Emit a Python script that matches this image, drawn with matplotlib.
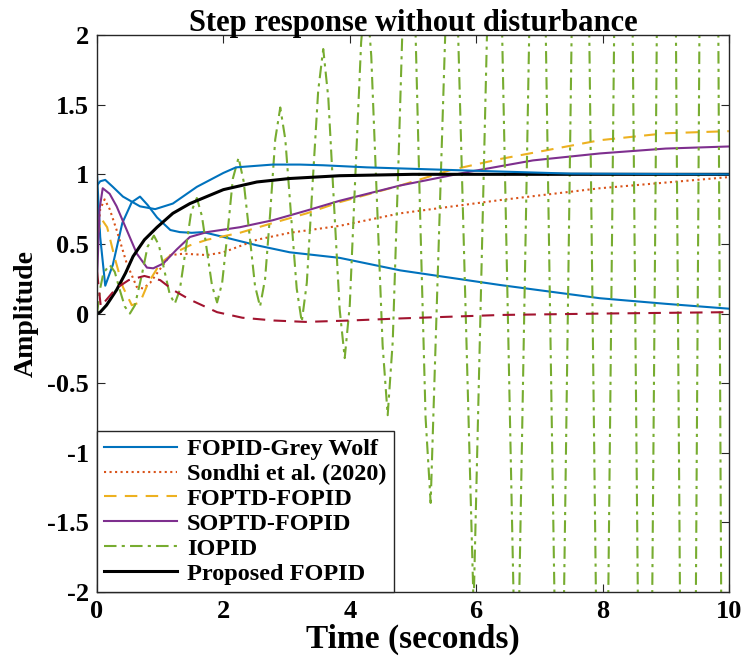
import numpy as np
import matplotlib
matplotlib.use("Agg")
import matplotlib.pyplot as plt

plt.rcParams['font.family'] = ['Liberation Serif', 'DejaVu Serif']
plt.rcParams['font.weight'] = 'bold'
plt.rcParams['axes.unicode_minus'] = False

# --- data ---
# FOPID-Grey Wolf (blue, solid)
gw_t = [0.0, 0.05, 0.13, 0.25, 0.4, 0.55, 0.68, 0.8, 0.95, 1.16, 1.31, 1.5, 1.68, 2.0, 2.53, 3.05, 3.84, 4.8, 6.38, 7.96, 9.0, 10.0]
gw_y = [1.0, 0.55, 0.2, 0.35, 0.65, 0.8, 0.84, 0.78, 0.69, 0.6, 0.585, 0.58, 0.585, 0.55, 0.49, 0.44, 0.40, 0.31, 0.205, 0.11, 0.07, 0.035]

# second blue trace (not in legend)
b2_t = [0.0, 0.05, 0.13, 0.25, 0.41, 0.68, 0.92, 1.2, 1.58, 2.0, 2.2, 2.78, 3.21, 3.58, 4.27, 5.32, 6.38, 7.5, 10.0]
b2_y = [0.92, 0.95, 0.96, 0.91, 0.84, 0.77, 0.75, 0.79, 0.91, 1.01, 1.05, 1.07, 1.07, 1.065, 1.05, 1.035, 1.02, 1.005, 1.0]

# Sondhi et al. (2020) (orange, dotted)
so_t = [0.0, 0.05, 0.12, 0.2, 0.31, 0.47, 0.63, 0.73, 0.84, 0.95, 1.16, 1.37, 1.74, 2.0, 2.53, 3.05, 3.84, 4.8, 6.38, 7.96, 10.0]
so_y = [0.5, 0.75, 0.82, 0.75, 0.6, 0.36, 0.19, 0.18, 0.22, 0.29, 0.42, 0.43, 0.42, 0.44, 0.53, 0.58, 0.63, 0.72, 0.815, 0.9, 0.98]

# FOPTD-FOPID (yellow, dashed)
fo_t = [0.0, 0.07, 0.16, 0.28, 0.41, 0.55, 0.68, 0.81, 1.0, 1.2, 1.47, 1.74, 2.26, 2.78, 3.32, 3.84, 4.8, 5.59, 6.38, 7.96, 9.0, 10.0]
fo_y = [0.55, 0.68, 0.62, 0.4, 0.19, 0.06, 0.08, 0.22, 0.36, 0.43, 0.49, 0.53, 0.58, 0.65, 0.72, 0.80, 0.92, 1.03, 1.11, 1.245, 1.295, 1.31]

# SOPTD-FOPID (purple, solid)
sp_t = [0.0, 0.04, 0.09, 0.2, 0.31, 0.47, 0.63, 0.79, 0.89, 1.05, 1.26, 1.47, 1.74, 2.26, 2.78, 3.32, 3.84, 4.8, 5.85, 6.9, 7.96, 9.0, 10.0]
sp_y = [0.25, 0.75, 0.9, 0.86, 0.77, 0.6, 0.43, 0.33, 0.325, 0.36, 0.46, 0.55, 0.585, 0.62, 0.67, 0.74, 0.81, 0.92, 1.015, 1.10, 1.15, 1.185, 1.20]

# IOPID (green, dash-dot)
io_t = [0.0, 0.05, 0.1, 0.2, 0.28, 0.36, 0.44, 0.52, 0.6, 0.71, 0.8, 0.9, 0.98, 1.065, 1.15, 1.23,
        1.31, 1.4, 1.49, 1.58, 1.66, 1.74, 1.82, 1.9, 1.98, 2.07, 2.15, 2.24, 2.32, 2.41, 2.5, 2.58,
        2.66, 2.74, 2.82, 2.9, 2.98, 3.07, 3.16, 3.24, 3.32, 3.41, 3.5, 3.58, 3.66, 3.75, 3.84, 3.92,
        4.0, 4.09, 4.18, 4.26, 4.34, 4.43, 4.52, 4.6, 4.68, 4.77, 4.86, 4.94, 5.02, 5.11, 5.2, 5.28,
        5.62, 5.96, 6.3, 6.64, 6.98, 7.32, 7.66, 8.0, 8.34, 8.68, 9.02, 9.36, 9.7, 10.0]
io_y = [0.0, 0.18, 0.29, 0.35, 0.30, 0.17, 0.05, 0.0, 0.06, 0.28, 0.48, 0.56, 0.49, 0.31, 0.14, 0.07,
        0.17, 0.45, 0.73, 0.83, 0.70, 0.45, 0.20, 0.08, 0.22, 0.60, 0.97, 1.12, 0.95, 0.58, 0.20, 0.05,
        0.25, 0.72, 1.25, 1.48, 1.25, 0.71, 0.18, -0.06, 0.22, 0.92, 1.60, 1.90, 1.55, 0.79, 0.03, -0.32,
        0.06, 1.01, 1.95, 2.35, 1.85, 0.81, -0.23, -0.73, -0.2, 1.08, 2.45, 2.9, 2.4, 0.77, -0.75, -1.36,
        3.6, -2.1, 4.5, -3.1, 5.6, -4.4, 7.0, -6.0, 8.8, -8.0, 11.0, -10.5, 14.0, -13.0]

# Proposed FOPID (black, solid)
pr_t = [0.0, 0.05, 0.15, 0.31, 0.45, 0.57, 0.75, 0.95, 1.2, 1.47, 2.0, 2.53, 3.05, 3.84, 5.0, 6.0, 10.0]
pr_y = [0.0, 0.01, 0.06, 0.17, 0.29, 0.41, 0.53, 0.62, 0.72, 0.79, 0.89, 0.945, 0.97, 0.99, 1.0, 1.0, 1.0]

# dark red dashed trace (not in legend)
dr_t = [0.0, 0.06, 0.15, 0.3, 0.5, 0.75, 1.0, 1.2, 1.47, 1.9, 2.3, 2.8, 3.3, 4.0, 4.8, 6.4, 8.0, 10.0]
dr_y = [0.3, 0.05, 0.1, 0.18, 0.24, 0.27, 0.24, 0.17, 0.1, 0.01, -0.03, -0.05, -0.06, -0.05, -0.035, -0.01, 0.0, 0.01]

fig = plt.figure(figsize=(7.43, 6.62), dpi=100)
ax = fig.add_axes([0.1306, 0.1057, 0.8504, 0.8413])

ax.plot(gw_t, gw_y, color='#0072BD', lw=1.5, label='FOPID-Grey Wolf')
ax.plot(so_t, so_y, color='#D95319', lw=1.5, ls=':', label='Sondhi et al. (2020)')
ax.plot(fo_t, fo_y, color='#EDB120', lw=1.5, ls=(0, (6, 4)), label='FOPTD-FOPID')
ax.plot(sp_t, sp_y, color='#7E2F8E', lw=1.5, label='SOPTD-FOPID')
ax.plot(io_t, io_y, color='#77AC30', lw=1.5, ls=(0, (6, 2.5, 1.5, 2.5)), label='IOPID')
ax.plot(pr_t, pr_y, color='black', lw=2.2, label='Proposed FOPID')
ax.plot(dr_t, dr_y, color='#A2142F', lw=1.5, ls=(0, (6, 4)))
ax.plot(b2_t, b2_y, color='#0072BD', lw=1.5)

ax.set_xlim(0, 10)
ax.set_ylim(-2, 2)
ax.set_xticks([0, 2, 4, 6, 8, 10])
ax.set_yticks([-2, -1.5, -1, -0.5, 0, 0.5, 1, 1.5, 2])
ax.set_yticklabels(['-2', '-1.5', '-1', '-0.5', '0', '0.5', '1', '1.5', '2'])
ax.tick_params(direction='in', top=True, right=True, length=6, width=0.8,
               labelsize=19, colors='#262626', pad=6)
for lab in ax.get_xticklabels() + ax.get_yticklabels():
    lab.set_fontweight('bold')
    lab.set_color('black')
for s in ax.spines.values():
    s.set_color('#262626')
    s.set_linewidth(1.0)

ax.set_title('Step response without disturbance', fontsize=22, fontweight='bold', pad=3)
ax.set_xlabel('Time (seconds)', fontsize=24, fontweight='bold', labelpad=0)
ax.set_ylabel('Amplitude', fontsize=20, fontweight='bold', labelpad=6)

leg = ax.legend(loc='lower left', bbox_to_anchor=(0, 0), borderaxespad=0,
                fancybox=False, edgecolor='#262626', framealpha=1,
                prop={'family': 'Liberation Serif', 'weight': 'bold', 'size': 17.5},
                handlelength=3.0, handletextpad=0.4, labelspacing=0.12, borderpad=0.3)
leg.get_frame().set_linewidth(1.0)

fig.savefig('out.png', dpi=100)
